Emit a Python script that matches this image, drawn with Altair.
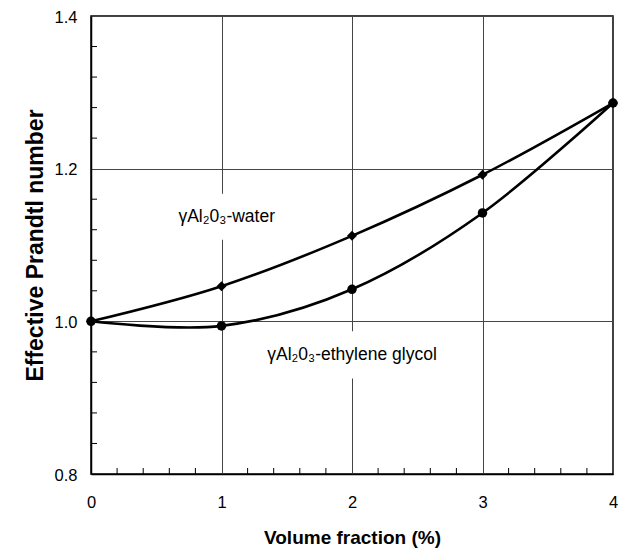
import altair as alt
import pandas as pd

# data
vol = [0, 1, 2, 3, 4]
water = [1.000, 1.046, 1.112, 1.192, 1.286]
glycol = [1.000, 0.994, 1.042, 1.142, 1.286]

x_minor = [0.2, 0.4, 0.6, 0.8, 1.2, 1.4, 1.6, 1.8, 2.2, 2.4, 2.6, 2.8, 3.2, 3.4, 3.6, 3.8]
y_minor = [0.84, 0.88, 0.92, 0.96, 1.04, 1.08, 1.12, 1.16, 1.24, 1.28, 1.32, 1.36]

label_text = ["γAl₂0₃-water", "γAl₂0₃-ethylene glycol"]
label_x = [1.04, 2.0]
label_y = [1.137, 0.956]
label_halfw = [0.50, 0.70]
label_halfh = [0.030, 0.031]

FONT = "Liberation Sans"

df_w = pd.DataFrame({"x": vol, "y": water})
df_g = pd.DataFrame({"x": vol, "y": glycol})
df_lab = pd.DataFrame({
    "t": label_text, "x": label_x, "y": label_y,
    "x0": [a - b for a, b in zip(label_x, label_halfw)],
    "x1": [a + b for a, b in zip(label_x, label_halfw)],
    "y0": [a - b for a, b in zip(label_y, label_halfh)],
    "y1": [a + b for a, b in zip(label_y, label_halfh)],
})

xs = alt.Scale(domain=[0, 4], nice=False)
ys = alt.Scale(domain=[0.8, 1.4], nice=False, zero=False)

xax = alt.Axis(values=[0, 1, 2, 3, 4], format="d", title="Volume fraction (%)",
               grid=True, ticks=False, labelPadding=20, titlePadding=18,
               labelFlush=False, titleFontSize=19)
yax = alt.Axis(values=[0.8, 1.0, 1.2, 1.4], format=".1f", title="Effective Prandtl number",
               grid=True, ticks=False, labelPadding=14, titlePadding=7,
               labelFlush=False, labelOffset=1, titleFontSize=23)

base_x = alt.X("x:Q", scale=xs, axis=xax)
base_y = alt.Y("y:Q", scale=ys, axis=yax)

boxes = alt.Chart(df_lab).mark_rect(color="white").encode(
    x=alt.X("x0:Q", scale=xs, axis=xax), x2="x1:Q",
    y=alt.Y("y0:Q", scale=ys, axis=yax), y2="y1:Q",
)
texts = alt.Chart(df_lab).mark_text(font=FONT, fontSize=17.5, color="black", baseline="middle").encode(
    x=alt.X("x:Q", scale=xs), y=alt.Y("y:Q", scale=ys), text="t:N"
)

xt = alt.Chart(pd.DataFrame({"x": x_minor})).mark_rule(color="black", strokeWidth=1).encode(
    x=alt.X("x:Q", scale=xs), y=alt.value(458), y2=alt.value(452)
)
yt = alt.Chart(pd.DataFrame({"y": y_minor})).mark_rule(color="black", strokeWidth=1).encode(
    y=alt.Y("y:Q", scale=ys), x=alt.value(0), x2=alt.value(6)
)

line_w = alt.Chart(df_w).mark_line(color="black", strokeWidth=2.6, interpolate="cardinal").encode(x=base_x, y=base_y)
line_g = alt.Chart(df_g).mark_line(color="black", strokeWidth=2.6, interpolate="cardinal").encode(x=base_x, y=base_y)
pts_w = alt.Chart(df_w).mark_point(shape="diamond", filled=True, color="black", size=100, opacity=1).encode(x=base_x, y=base_y)
pts_g = alt.Chart(df_g).mark_point(shape="circle", filled=True, color="black", size=90, opacity=1).encode(x=base_x, y=base_y)

chart = alt.layer(boxes, xt, yt, line_w, line_g, pts_w, pts_g, texts).properties(
    width=522, height=458,
    autosize=alt.AutoSizeParams(type="none"),
    padding={"left": 83, "top": 8, "right": 5, "bottom": 74},
).configure_view(stroke="black", strokeWidth=1.5).configure_axis(
    domainColor="black", domainWidth=1.5,
    gridColor="#444444", gridWidth=1, gridOpacity=1,
    labelFont=FONT, labelFontSize=16.5, labelColor="black",
    titleFont=FONT, titleFontWeight="bold", titleColor="black",
)

chart.save("out.html", embed_options={"renderer": "svg", "actions": False})
